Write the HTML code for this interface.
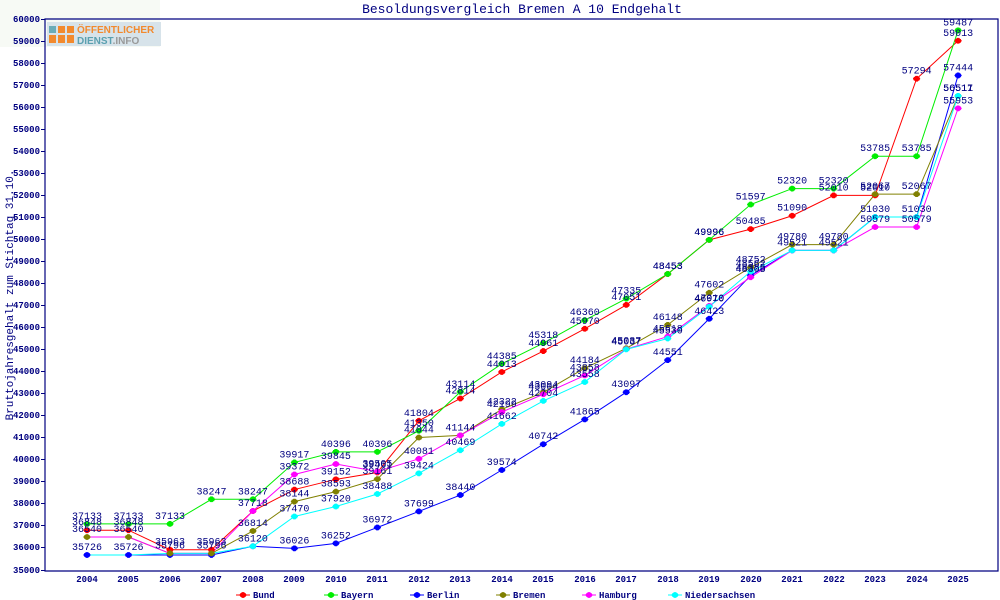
<!DOCTYPE html>
<html><head><meta charset="utf-8"><style>
body{margin:0;background:#fff}
svg{display:block}
text{font-family:"Liberation Mono","DejaVu Sans Mono",monospace;fill:#000080}
.l text{font-size:10px;text-anchor:middle}
</style></head><body>
<svg width="1000" height="600" viewBox="0 0 1000 600" xmlns="http://www.w3.org/2000/svg">
<defs>
<g id="m"><path transform="scale(.72)" d="M-1.5,-4 h3 l1.5,1.5 h1 v1 l1,1 v1 l-1,1 v1 h-1 l-1.5,1.5 h-3 l-1.5,-1.5 h-1 v-1 l-1,-1 v-1 l1,-1 v-1 h1z"/></g>
</defs>
<rect x="0" y="0" width="160" height="47" fill="#f7faf5"/>
<rect x="47" y="22" width="114" height="24" fill="#d7e3ea"/>
<rect x="49" y="26" width="7" height="7" fill="#6aacb8"/><rect x="58" y="26" width="7" height="7" fill="#f28a2e"/><rect x="67" y="26" width="7" height="7" fill="#f28a2e"/>
<rect x="49" y="35" width="7" height="8" fill="#f28a2e"/><rect x="58" y="35" width="7" height="8" fill="#f28a2e"/><rect x="67" y="35" width="7" height="8" fill="#f28a2e"/>
<text x="77" y="33" style="font-family:'Liberation Sans',sans-serif;font-weight:bold;font-size:10px;fill:#f28a2e">ÖFFENTLICHER</text>
<text x="77" y="44" style="font-family:'Liberation Sans',sans-serif;font-weight:bold;font-size:10px;fill:#5aa0b0">DIENST<tspan style="fill:#999">.INFO</tspan></text>
<text x="522" y="13" style="font-size:13px;text-anchor:middle">Besoldungsvergleich Bremen A 10 Endgehalt</text>
<text transform="translate(13 295) rotate(-90)" style="font-size:11px;text-anchor:middle">Bruttojahresgehalt zum Stichtag 31.10.</text>
<path d="M45,19 H998 V571 H45 Z" fill="none" stroke="#000080" stroke-width="1.2"/>
<g stroke="#000080">
<path d="M41,19.5h4M41,41.5h4M41,63.5h4M41,85.5h4M41,107.5h4M41,129.5h4M41,151.5h4M41,173.5h4M41,195.5h4M41,217.5h4M41,239.5h4M41,261.5h4M41,283.5h4M41,305.5h4M41,327.5h4M41,349.5h4M41,371.5h4M41,393.5h4M41,415.5h4M41,437.5h4M41,459.5h4M41,481.5h4M41,503.5h4M41,525.5h4M41,547.5h4M41,570.5h4"/>
</g>
<g style="font-size:9px;font-weight:bold;text-anchor:end">
<text x="40" y="22">60000</text><text x="40" y="44">59000</text><text x="40" y="66">58000</text><text x="40" y="88">57000</text><text x="40" y="110">56000</text><text x="40" y="132">55000</text><text x="40" y="154">54000</text><text x="40" y="176">53000</text><text x="40" y="198">52000</text><text x="40" y="220">51000</text><text x="40" y="242">50000</text><text x="40" y="264">49000</text><text x="40" y="286">48000</text><text x="40" y="308">47000</text><text x="40" y="330">46000</text><text x="40" y="352">45000</text><text x="40" y="374">44000</text><text x="40" y="396">43000</text><text x="40" y="418">42000</text><text x="40" y="440">41000</text><text x="40" y="462">40000</text><text x="40" y="484">39000</text><text x="40" y="506">38000</text><text x="40" y="528">37000</text><text x="40" y="550">36000</text><text x="40" y="573">35000</text>
</g>
<g style="font-size:9px;font-weight:bold;text-anchor:middle">
<text x="87" y="582">2004</text><text x="128" y="582">2005</text><text x="170" y="582">2006</text><text x="211" y="582">2007</text><text x="253" y="582">2008</text><text x="294" y="582">2009</text><text x="336" y="582">2010</text><text x="377" y="582">2011</text><text x="419" y="582">2012</text><text x="460" y="582">2013</text><text x="502" y="582">2014</text><text x="543" y="582">2015</text><text x="585" y="582">2016</text><text x="626" y="582">2017</text><text x="668" y="582">2018</text><text x="709" y="582">2019</text><text x="751" y="582">2020</text><text x="792" y="582">2021</text><text x="834" y="582">2022</text><text x="875" y="582">2023</text><text x="917" y="582">2024</text><text x="958" y="582">2025</text>
</g>

<g transform="translate(87 571) scale(41.48 -0.02208) translate(0 -35000)">
<g fill="none" stroke-width="1" vector-effect="non-scaling-stroke">
<polyline vector-effect="non-scaling-stroke" stroke="#ff0000" points="0,36848 1,36848 2,35963 3,35963 4,37718 5,38688 6,39152 7,39461 8,41804 9,42814 10,44013 11,44961 12,45970 13,47051 14,48453 15,49996 16,50485 17,51090 18,52010 19,52010 20,57294 21,59013"/>
<polyline vector-effect="non-scaling-stroke" stroke="#00ee00" points="0,37133 1,37133 2,37133 3,38247 4,38247 5,39917 6,40396 7,40396 8,41350 9,43114 10,44385 11,45318 12,46360 13,47335 14,48453 15,49996 16,51597 17,52320 18,52320 19,53785 20,53785 21,59487"/>
<polyline vector-effect="non-scaling-stroke" stroke="#0000ff" points="0,35726 1,35726 2,35726 3,35726 4,36120 5,36026 6,36252 7,36972 8,37699 9,38440 10,39574 11,40742 12,41865 13,43097 14,44551 15,46423 16,48385 17,49521 18,49521 19,51030 20,51030 21,57444"/>
<polyline vector-effect="non-scaling-stroke" stroke="#808000" points="0,36540 1,36540 2,35796 3,35796 4,36814 5,38144 6,38593 7,39161 8,41044 9,41144 10,42322 11,43094 12,44184 13,45087 14,46148 15,47602 16,48752 17,49780 18,49780 19,52067 20,52067 21,56511"/>
<polyline vector-effect="non-scaling-stroke" stroke="#ff00ff" points="0,36540 1,36540 2,35796 3,35796 4,37718 5,39372 6,39845 7,39505 8,40081 9,41144 10,42199 11,43004 12,43858 13,45047 14,45618 15,47010 16,48305 17,49521 18,49521 19,50579 20,50579 21,55953"/>
<polyline vector-effect="non-scaling-stroke" stroke="#00ffff" points="0,35726 1,35726 2,35796 3,35796 4,36120 5,37470 6,37920 7,38488 8,39424 9,40469 10,41662 11,42704 12,43558 13,45037 14,45530 15,46970 16,48562 17,49521 18,49521 19,51030 20,51030 21,56517"/>
</g>
<g fill="#ff0000">
<use href="#m" transform="translate(0 36848) scale(.02411 -45.29)"/><use href="#m" transform="translate(1 36848) scale(.02411 -45.29)"/><use href="#m" transform="translate(2 35963) scale(.02411 -45.29)"/><use href="#m" transform="translate(3 35963) scale(.02411 -45.29)"/><use href="#m" transform="translate(4 37718) scale(.02411 -45.29)"/><use href="#m" transform="translate(5 38688) scale(.02411 -45.29)"/><use href="#m" transform="translate(6 39152) scale(.02411 -45.29)"/><use href="#m" transform="translate(7 39461) scale(.02411 -45.29)"/><use href="#m" transform="translate(8 41804) scale(.02411 -45.29)"/><use href="#m" transform="translate(9 42814) scale(.02411 -45.29)"/><use href="#m" transform="translate(10 44013) scale(.02411 -45.29)"/><use href="#m" transform="translate(11 44961) scale(.02411 -45.29)"/><use href="#m" transform="translate(12 45970) scale(.02411 -45.29)"/><use href="#m" transform="translate(13 47051) scale(.02411 -45.29)"/><use href="#m" transform="translate(14 48453) scale(.02411 -45.29)"/><use href="#m" transform="translate(15 49996) scale(.02411 -45.29)"/><use href="#m" transform="translate(16 50485) scale(.02411 -45.29)"/><use href="#m" transform="translate(17 51090) scale(.02411 -45.29)"/><use href="#m" transform="translate(18 52010) scale(.02411 -45.29)"/><use href="#m" transform="translate(19 52010) scale(.02411 -45.29)"/><use href="#m" transform="translate(20 57294) scale(.02411 -45.29)"/><use href="#m" transform="translate(21 59013) scale(.02411 -45.29)"/>
</g>
<g fill="#00ee00">
<use href="#m" transform="translate(0 37133) scale(.02411 -45.29)"/><use href="#m" transform="translate(1 37133) scale(.02411 -45.29)"/><use href="#m" transform="translate(2 37133) scale(.02411 -45.29)"/><use href="#m" transform="translate(3 38247) scale(.02411 -45.29)"/><use href="#m" transform="translate(4 38247) scale(.02411 -45.29)"/><use href="#m" transform="translate(5 39917) scale(.02411 -45.29)"/><use href="#m" transform="translate(6 40396) scale(.02411 -45.29)"/><use href="#m" transform="translate(7 40396) scale(.02411 -45.29)"/><use href="#m" transform="translate(8 41350) scale(.02411 -45.29)"/><use href="#m" transform="translate(9 43114) scale(.02411 -45.29)"/><use href="#m" transform="translate(10 44385) scale(.02411 -45.29)"/><use href="#m" transform="translate(11 45318) scale(.02411 -45.29)"/><use href="#m" transform="translate(12 46360) scale(.02411 -45.29)"/><use href="#m" transform="translate(13 47335) scale(.02411 -45.29)"/><use href="#m" transform="translate(14 48453) scale(.02411 -45.29)"/><use href="#m" transform="translate(15 49996) scale(.02411 -45.29)"/><use href="#m" transform="translate(16 51597) scale(.02411 -45.29)"/><use href="#m" transform="translate(17 52320) scale(.02411 -45.29)"/><use href="#m" transform="translate(18 52320) scale(.02411 -45.29)"/><use href="#m" transform="translate(19 53785) scale(.02411 -45.29)"/><use href="#m" transform="translate(20 53785) scale(.02411 -45.29)"/><use href="#m" transform="translate(21 59487) scale(.02411 -45.29)"/>
</g>
<g fill="#0000ff">
<use href="#m" transform="translate(0 35726) scale(.02411 -45.29)"/><use href="#m" transform="translate(1 35726) scale(.02411 -45.29)"/><use href="#m" transform="translate(2 35726) scale(.02411 -45.29)"/><use href="#m" transform="translate(3 35726) scale(.02411 -45.29)"/><use href="#m" transform="translate(4 36120) scale(.02411 -45.29)"/><use href="#m" transform="translate(5 36026) scale(.02411 -45.29)"/><use href="#m" transform="translate(6 36252) scale(.02411 -45.29)"/><use href="#m" transform="translate(7 36972) scale(.02411 -45.29)"/><use href="#m" transform="translate(8 37699) scale(.02411 -45.29)"/><use href="#m" transform="translate(9 38440) scale(.02411 -45.29)"/><use href="#m" transform="translate(10 39574) scale(.02411 -45.29)"/><use href="#m" transform="translate(11 40742) scale(.02411 -45.29)"/><use href="#m" transform="translate(12 41865) scale(.02411 -45.29)"/><use href="#m" transform="translate(13 43097) scale(.02411 -45.29)"/><use href="#m" transform="translate(14 44551) scale(.02411 -45.29)"/><use href="#m" transform="translate(15 46423) scale(.02411 -45.29)"/><use href="#m" transform="translate(16 48385) scale(.02411 -45.29)"/><use href="#m" transform="translate(17 49521) scale(.02411 -45.29)"/><use href="#m" transform="translate(18 49521) scale(.02411 -45.29)"/><use href="#m" transform="translate(19 51030) scale(.02411 -45.29)"/><use href="#m" transform="translate(20 51030) scale(.02411 -45.29)"/><use href="#m" transform="translate(21 57444) scale(.02411 -45.29)"/>
</g>
<g fill="#808000">
<use href="#m" transform="translate(0 36540) scale(.02411 -45.29)"/><use href="#m" transform="translate(1 36540) scale(.02411 -45.29)"/><use href="#m" transform="translate(2 35796) scale(.02411 -45.29)"/><use href="#m" transform="translate(3 35796) scale(.02411 -45.29)"/><use href="#m" transform="translate(4 36814) scale(.02411 -45.29)"/><use href="#m" transform="translate(5 38144) scale(.02411 -45.29)"/><use href="#m" transform="translate(6 38593) scale(.02411 -45.29)"/><use href="#m" transform="translate(7 39161) scale(.02411 -45.29)"/><use href="#m" transform="translate(8 41044) scale(.02411 -45.29)"/><use href="#m" transform="translate(9 41144) scale(.02411 -45.29)"/><use href="#m" transform="translate(10 42322) scale(.02411 -45.29)"/><use href="#m" transform="translate(11 43094) scale(.02411 -45.29)"/><use href="#m" transform="translate(12 44184) scale(.02411 -45.29)"/><use href="#m" transform="translate(13 45087) scale(.02411 -45.29)"/><use href="#m" transform="translate(14 46148) scale(.02411 -45.29)"/><use href="#m" transform="translate(15 47602) scale(.02411 -45.29)"/><use href="#m" transform="translate(16 48752) scale(.02411 -45.29)"/><use href="#m" transform="translate(17 49780) scale(.02411 -45.29)"/><use href="#m" transform="translate(18 49780) scale(.02411 -45.29)"/><use href="#m" transform="translate(19 52067) scale(.02411 -45.29)"/><use href="#m" transform="translate(20 52067) scale(.02411 -45.29)"/><use href="#m" transform="translate(21 56511) scale(.02411 -45.29)"/>
</g>
<g fill="#ff00ff">
<use href="#m" transform="translate(4 37718) scale(.02411 -45.29)"/><use href="#m" transform="translate(5 39372) scale(.02411 -45.29)"/><use href="#m" transform="translate(6 39845) scale(.02411 -45.29)"/><use href="#m" transform="translate(7 39505) scale(.02411 -45.29)"/><use href="#m" transform="translate(8 40081) scale(.02411 -45.29)"/><use href="#m" transform="translate(9 41144) scale(.02411 -45.29)"/><use href="#m" transform="translate(10 42199) scale(.02411 -45.29)"/><use href="#m" transform="translate(11 43004) scale(.02411 -45.29)"/><use href="#m" transform="translate(12 43858) scale(.02411 -45.29)"/><use href="#m" transform="translate(13 45047) scale(.02411 -45.29)"/><use href="#m" transform="translate(14 45618) scale(.02411 -45.29)"/><use href="#m" transform="translate(15 47010) scale(.02411 -45.29)"/><use href="#m" transform="translate(16 48305) scale(.02411 -45.29)"/><use href="#m" transform="translate(17 49521) scale(.02411 -45.29)"/><use href="#m" transform="translate(18 49521) scale(.02411 -45.29)"/><use href="#m" transform="translate(19 50579) scale(.02411 -45.29)"/><use href="#m" transform="translate(20 50579) scale(.02411 -45.29)"/><use href="#m" transform="translate(21 55953) scale(.02411 -45.29)"/>
</g>
<g fill="#00ffff">
<use href="#m" transform="translate(4 36120) scale(.02411 -45.29)"/><use href="#m" transform="translate(5 37470) scale(.02411 -45.29)"/><use href="#m" transform="translate(6 37920) scale(.02411 -45.29)"/><use href="#m" transform="translate(7 38488) scale(.02411 -45.29)"/><use href="#m" transform="translate(8 39424) scale(.02411 -45.29)"/><use href="#m" transform="translate(9 40469) scale(.02411 -45.29)"/><use href="#m" transform="translate(10 41662) scale(.02411 -45.29)"/><use href="#m" transform="translate(11 42704) scale(.02411 -45.29)"/><use href="#m" transform="translate(12 43558) scale(.02411 -45.29)"/><use href="#m" transform="translate(13 45037) scale(.02411 -45.29)"/><use href="#m" transform="translate(14 45530) scale(.02411 -45.29)"/><use href="#m" transform="translate(15 46970) scale(.02411 -45.29)"/><use href="#m" transform="translate(16 48562) scale(.02411 -45.29)"/><use href="#m" transform="translate(17 49521) scale(.02411 -45.29)"/><use href="#m" transform="translate(18 49521) scale(.02411 -45.29)"/><use href="#m" transform="translate(19 51030) scale(.02411 -45.29)"/><use href="#m" transform="translate(20 51030) scale(.02411 -45.29)"/><use href="#m" transform="translate(21 56517) scale(.02411 -45.29)"/>
</g>
<g class="l">
<text transform="translate(0 36848) scale(.02411 -45.29)" y="-5">36848</text><text transform="translate(1 36848) scale(.02411 -45.29)" y="-5">36848</text><text transform="translate(2 35963) scale(.02411 -45.29)" y="-5">35963</text><text transform="translate(3 35963) scale(.02411 -45.29)" y="-5">35963</text><text transform="translate(4 37718) scale(.02411 -45.29)" y="-5">37718</text><text transform="translate(5 38688) scale(.02411 -45.29)" y="-5">38688</text><text transform="translate(6 39152) scale(.02411 -45.29)" y="-5">39152</text><text transform="translate(7 39461) scale(.02411 -45.29)" y="-5">39461</text><text transform="translate(8 41804) scale(.02411 -45.29)" y="-5">41804</text><text transform="translate(9 42814) scale(.02411 -45.29)" y="-5">42814</text><text transform="translate(10 44013) scale(.02411 -45.29)" y="-5">44013</text><text transform="translate(11 44961) scale(.02411 -45.29)" y="-5">44961</text><text transform="translate(12 45970) scale(.02411 -45.29)" y="-5">45970</text><text transform="translate(13 47051) scale(.02411 -45.29)" y="-5">47051</text><text transform="translate(14 48453) scale(.02411 -45.29)" y="-5">48453</text><text transform="translate(15 49996) scale(.02411 -45.29)" y="-5">49996</text><text transform="translate(16 50485) scale(.02411 -45.29)" y="-5">50485</text><text transform="translate(17 51090) scale(.02411 -45.29)" y="-5">51090</text><text transform="translate(18 52010) scale(.02411 -45.29)" y="-5">52010</text><text transform="translate(19 52010) scale(.02411 -45.29)" y="-5">52010</text><text transform="translate(20 57294) scale(.02411 -45.29)" y="-5">57294</text><text transform="translate(21 59013) scale(.02411 -45.29)" y="-5">59013</text>
<text transform="translate(0 37133) scale(.02411 -45.29)" y="-5">37133</text><text transform="translate(1 37133) scale(.02411 -45.29)" y="-5">37133</text><text transform="translate(2 37133) scale(.02411 -45.29)" y="-5">37133</text><text transform="translate(3 38247) scale(.02411 -45.29)" y="-5">38247</text><text transform="translate(4 38247) scale(.02411 -45.29)" y="-5">38247</text><text transform="translate(5 39917) scale(.02411 -45.29)" y="-5">39917</text><text transform="translate(6 40396) scale(.02411 -45.29)" y="-5">40396</text><text transform="translate(7 40396) scale(.02411 -45.29)" y="-5">40396</text><text transform="translate(8 41350) scale(.02411 -45.29)" y="-5">41350</text><text transform="translate(9 43114) scale(.02411 -45.29)" y="-5">43114</text><text transform="translate(10 44385) scale(.02411 -45.29)" y="-5">44385</text><text transform="translate(11 45318) scale(.02411 -45.29)" y="-5">45318</text><text transform="translate(12 46360) scale(.02411 -45.29)" y="-5">46360</text><text transform="translate(13 47335) scale(.02411 -45.29)" y="-5">47335</text><text transform="translate(14 48453) scale(.02411 -45.29)" y="-5">48453</text><text transform="translate(15 49996) scale(.02411 -45.29)" y="-5">49996</text><text transform="translate(16 51597) scale(.02411 -45.29)" y="-5">51597</text><text transform="translate(17 52320) scale(.02411 -45.29)" y="-5">52320</text><text transform="translate(18 52320) scale(.02411 -45.29)" y="-5">52320</text><text transform="translate(19 53785) scale(.02411 -45.29)" y="-5">53785</text><text transform="translate(20 53785) scale(.02411 -45.29)" y="-5">53785</text><text transform="translate(21 59487) scale(.02411 -45.29)" y="-5">59487</text>
<text transform="translate(0 35726) scale(.02411 -45.29)" y="-5">35726</text><text transform="translate(1 35726) scale(.02411 -45.29)" y="-5">35726</text><text transform="translate(4 36120) scale(.02411 -45.29)" y="-5">36120</text><text transform="translate(5 36026) scale(.02411 -45.29)" y="-5">36026</text><text transform="translate(6 36252) scale(.02411 -45.29)" y="-5">36252</text><text transform="translate(7 36972) scale(.02411 -45.29)" y="-5">36972</text><text transform="translate(8 37699) scale(.02411 -45.29)" y="-5">37699</text><text transform="translate(9 38440) scale(.02411 -45.29)" y="-5">38440</text><text transform="translate(10 39574) scale(.02411 -45.29)" y="-5">39574</text><text transform="translate(11 40742) scale(.02411 -45.29)" y="-5">40742</text><text transform="translate(12 41865) scale(.02411 -45.29)" y="-5">41865</text><text transform="translate(13 43097) scale(.02411 -45.29)" y="-5">43097</text><text transform="translate(14 44551) scale(.02411 -45.29)" y="-5">44551</text><text transform="translate(15 46423) scale(.02411 -45.29)" y="-5">46423</text><text transform="translate(16 48385) scale(.02411 -45.29)" y="-5">48385</text><text transform="translate(17 49521) scale(.02411 -45.29)" y="-5">49521</text><text transform="translate(18 49521) scale(.02411 -45.29)" y="-5">49521</text><text transform="translate(19 51030) scale(.02411 -45.29)" y="-5">51030</text><text transform="translate(20 51030) scale(.02411 -45.29)" y="-5">51030</text><text transform="translate(21 57444) scale(.02411 -45.29)" y="-5">57444</text>
<text transform="translate(0 36540) scale(.02411 -45.29)" y="-5">36540</text><text transform="translate(1 36540) scale(.02411 -45.29)" y="-5">36540</text><text transform="translate(2 35796) scale(.02411 -45.29)" y="-5">35796</text><text transform="translate(3 35796) scale(.02411 -45.29)" y="-5">35796</text><text transform="translate(4 36814) scale(.02411 -45.29)" y="-5">36814</text><text transform="translate(5 38144) scale(.02411 -45.29)" y="-5">38144</text><text transform="translate(6 38593) scale(.02411 -45.29)" y="-5">38593</text><text transform="translate(7 39161) scale(.02411 -45.29)" y="-5">39161</text><text transform="translate(8 41044) scale(.02411 -45.29)" y="-5">41044</text><text transform="translate(9 41144) scale(.02411 -45.29)" y="-5">41144</text><text transform="translate(10 42322) scale(.02411 -45.29)" y="-5">42322</text><text transform="translate(11 43094) scale(.02411 -45.29)" y="-5">43094</text><text transform="translate(12 44184) scale(.02411 -45.29)" y="-5">44184</text><text transform="translate(13 45087) scale(.02411 -45.29)" y="-5">45087</text><text transform="translate(14 46148) scale(.02411 -45.29)" y="-5">46148</text><text transform="translate(15 47602) scale(.02411 -45.29)" y="-5">47602</text><text transform="translate(16 48752) scale(.02411 -45.29)" y="-5">48752</text><text transform="translate(17 49780) scale(.02411 -45.29)" y="-5">49780</text><text transform="translate(18 49780) scale(.02411 -45.29)" y="-5">49780</text><text transform="translate(19 52067) scale(.02411 -45.29)" y="-5">52067</text><text transform="translate(20 52067) scale(.02411 -45.29)" y="-5">52067</text><text transform="translate(21 56511) scale(.02411 -45.29)" y="-5">56511</text>
<text transform="translate(5 39372) scale(.02411 -45.29)" y="-5">39372</text><text transform="translate(6 39845) scale(.02411 -45.29)" y="-5">39845</text><text transform="translate(7 39505) scale(.02411 -45.29)" y="-5">39505</text><text transform="translate(8 40081) scale(.02411 -45.29)" y="-5">40081</text><text transform="translate(10 42199) scale(.02411 -45.29)" y="-5">42199</text><text transform="translate(11 43004) scale(.02411 -45.29)" y="-5">43004</text><text transform="translate(12 43858) scale(.02411 -45.29)" y="-5">43858</text><text transform="translate(14 45618) scale(.02411 -45.29)" y="-5">45618</text><text transform="translate(15 47010) scale(.02411 -45.29)" y="-5">47010</text><text transform="translate(16 48305) scale(.02411 -45.29)" y="-5">48305</text><text transform="translate(19 50579) scale(.02411 -45.29)" y="-5">50579</text><text transform="translate(20 50579) scale(.02411 -45.29)" y="-5">50579</text><text transform="translate(21 55953) scale(.02411 -45.29)" y="-5">55953</text>
<text transform="translate(5 37470) scale(.02411 -45.29)" y="-5">37470</text><text transform="translate(6 37920) scale(.02411 -45.29)" y="-5">37920</text><text transform="translate(7 38488) scale(.02411 -45.29)" y="-5">38488</text><text transform="translate(8 39424) scale(.02411 -45.29)" y="-5">39424</text><text transform="translate(9 40469) scale(.02411 -45.29)" y="-5">40469</text><text transform="translate(10 41662) scale(.02411 -45.29)" y="-5">41662</text><text transform="translate(11 42704) scale(.02411 -45.29)" y="-5">42704</text><text transform="translate(12 43558) scale(.02411 -45.29)" y="-5">43558</text><text transform="translate(13 45037) scale(.02411 -45.29)" y="-5">45037</text><text transform="translate(14 45530) scale(.02411 -45.29)" y="-5">45530</text><text transform="translate(15 46970) scale(.02411 -45.29)" y="-5">46970</text><text transform="translate(16 48562) scale(.02411 -45.29)" y="-5">48562</text><text transform="translate(21 56517) scale(.02411 -45.29)" y="-5">56517</text>
</g>
</g>

<g style="font-size:9px;font-weight:bold">
<line x1="236" y1="595" x2="250" y2="595" stroke="#ff0000"/><use href="#m" x="243" y="595" fill="#ff0000"/><text x="253" y="598">Bund</text>
<line x1="324" y1="595" x2="338" y2="595" stroke="#00ee00"/><use href="#m" x="331" y="595" fill="#00ee00"/><text x="341" y="598">Bayern</text>
<line x1="410" y1="595" x2="424" y2="595" stroke="#0000ff"/><use href="#m" x="417" y="595" fill="#0000ff"/><text x="427" y="598">Berlin</text>
<line x1="496" y1="595" x2="510" y2="595" stroke="#808000"/><use href="#m" x="503" y="595" fill="#808000"/><text x="513" y="598">Bremen</text>
<line x1="582" y1="595" x2="596" y2="595" stroke="#ff00ff"/><use href="#m" x="589" y="595" fill="#ff00ff"/><text x="599" y="598">Hamburg</text>
<line x1="668" y1="595" x2="682" y2="595" stroke="#00ffff"/><use href="#m" x="675" y="595" fill="#00ffff"/><text x="685" y="598">Niedersachsen</text>
</g>
</svg>
</body></html>
